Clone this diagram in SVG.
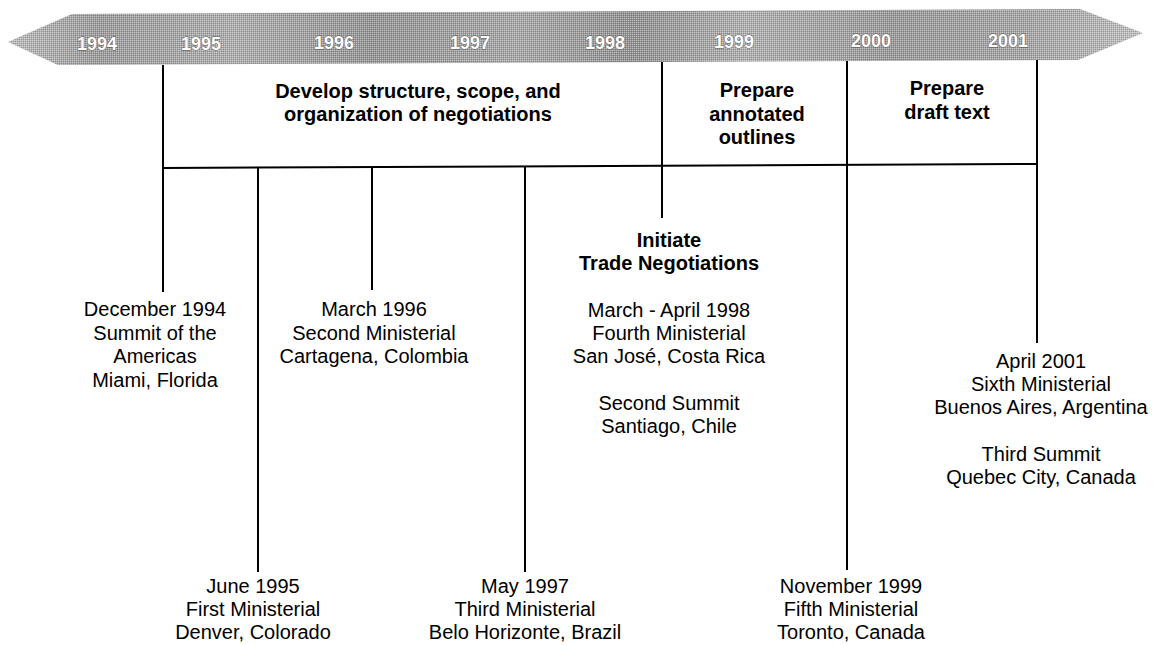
<svg xmlns="http://www.w3.org/2000/svg" width="1155" height="645" viewBox="0 0 1155 645">
  <defs>
    <linearGradient id="bandGrad" x1="0" y1="0" x2="1" y2="0">
      <stop offset="0" stop-color="#bdbdbd"/>
      <stop offset="0.08" stop-color="#9c9c9c"/>
      <stop offset="0.2" stop-color="#aeaeae"/>
      <stop offset="0.32" stop-color="#959595"/>
      <stop offset="0.45" stop-color="#a8a8a8"/>
      <stop offset="0.55" stop-color="#929292"/>
      <stop offset="0.65" stop-color="#b0b0b0"/>
      <stop offset="0.78" stop-color="#9a9a9a"/>
      <stop offset="0.9" stop-color="#a6a6a6"/>
      <stop offset="1" stop-color="#c0c0c0"/>
    </linearGradient>
    <pattern id="dither" width="2" height="2" patternUnits="userSpaceOnUse">
      <rect x="0" y="0" width="1" height="1" fill="#ffffff" fill-opacity="0.4"/>
      <rect x="1" y="1" width="1" height="1" fill="#000000" fill-opacity="0.18"/>
    </pattern>
  </defs>
  <style>
    .year { font-family: "Liberation Sans", Arial, sans-serif; font-weight: bold; font-size: 18px; fill: #ffffff; stroke: #555555; stroke-width: 0.8px; paint-order: stroke; text-anchor: middle; }
    .phase { font-family: "Liberation Sans", Arial, sans-serif; font-weight: bold; font-size: 20px; fill: #000000; text-anchor: middle; }
    .event { font-family: "Liberation Sans", Arial, sans-serif; font-size: 20px; fill: #000000; text-anchor: middle; }
    .eventb { font-family: "Liberation Sans", Arial, sans-serif; font-weight: bold; font-size: 20px; fill: #000000; text-anchor: middle; }
    .ln { stroke: #000000; stroke-width: 2; fill: none; stroke-linecap: butt; }
  </style>
  <rect width="1155" height="645" fill="#ffffff"/>

  <g id="timeline-band">
    <polygon points="8,42 72,14 1080,9 1143,33 1078,60 58,65" fill="url(#bandGrad)"/>
    <polygon points="8,42 72,14 1080,9 1143,33 1078,60 58,65" fill="url(#dither)"/>
    <text class="year" x="97" y="50">1994</text>
    <text class="year" x="201" y="50">1995</text>
    <text class="year" x="334" y="49">1996</text>
    <text class="year" x="470" y="49">1997</text>
    <text class="year" x="605" y="49">1998</text>
    <text class="year" x="734" y="48">1999</text>
    <text class="year" x="871" y="47">2000</text>
    <text class="year" x="1008" y="47">2001</text>
  </g>

  <g id="connectors">
    <line class="ln" x1="163" y1="65" x2="163" y2="292"/>
    <line class="ln" x1="163" y1="168" x2="1037" y2="164"/>
    <line class="ln" x1="258" y1="167" x2="258" y2="572"/>
    <line class="ln" x1="372" y1="167" x2="372" y2="290"/>
    <line class="ln" x1="525" y1="166" x2="525" y2="572"/>
    <line class="ln" x1="662" y1="62" x2="662" y2="218"/>
    <line class="ln" x1="847" y1="61" x2="847" y2="570"/>
    <line class="ln" x1="1037" y1="60" x2="1037" y2="343"/>
  </g>

  <g id="phase-develop">
    <text class="phase" x="418" y="98">Develop structure, scope, and</text>
    <text class="phase" x="418" y="121">organization of negotiations</text>
  </g>
  <g id="phase-outlines">
    <text class="phase" x="757" y="97">Prepare</text>
    <text class="phase" x="757" y="121">annotated</text>
    <text class="phase" x="757" y="144">outlines</text>
  </g>
  <g id="phase-draft">
    <text class="phase" x="947" y="95">Prepare</text>
    <text class="phase" x="947" y="119">draft text</text>
  </g>

  <g id="event-dec1994">
    <text class="event" x="155" y="316">December 1994</text>
    <text class="event" x="155" y="339.5">Summit of the</text>
    <text class="event" x="155" y="363">Americas</text>
    <text class="event" x="155" y="386.5">Miami, Florida</text>
  </g>
  <g id="event-jun1995">
    <text class="event" x="253" y="593">June 1995</text>
    <text class="event" x="253" y="616">First Ministerial</text>
    <text class="event" x="253" y="639">Denver, Colorado</text>
  </g>
  <g id="event-mar1996">
    <text class="event" x="374" y="316">March 1996</text>
    <text class="event" x="374" y="339.5">Second Ministerial</text>
    <text class="event" x="374" y="363">Cartagena, Colombia</text>
  </g>
  <g id="event-may1997">
    <text class="event" x="525" y="593">May 1997</text>
    <text class="event" x="525" y="616">Third Ministerial</text>
    <text class="event" x="525" y="639">Belo Horizonte, Brazil</text>
  </g>
  <g id="event-1998">
    <text class="eventb" x="669" y="247">Initiate</text>
    <text class="eventb" x="669" y="270">Trade Negotiations</text>
    <text class="event" x="669" y="317">March - April 1998</text>
    <text class="event" x="669" y="340">Fourth Ministerial</text>
    <text class="event" x="669" y="363">San José, Costa Rica</text>
    <text class="event" x="669" y="410">Second Summit</text>
    <text class="event" x="669" y="433">Santiago, Chile</text>
  </g>
  <g id="event-nov1999">
    <text class="event" x="851" y="593">November 1999</text>
    <text class="event" x="851" y="616">Fifth Ministerial</text>
    <text class="event" x="851" y="639">Toronto, Canada</text>
  </g>
  <g id="event-apr2001">
    <text class="event" x="1041" y="368">April 2001</text>
    <text class="event" x="1041" y="391">Sixth Ministerial</text>
    <text class="event" x="1041" y="414">Buenos Aires, Argentina</text>
    <text class="event" x="1041" y="461">Third Summit</text>
    <text class="event" x="1041" y="484">Quebec City, Canada</text>
  </g>
</svg>
